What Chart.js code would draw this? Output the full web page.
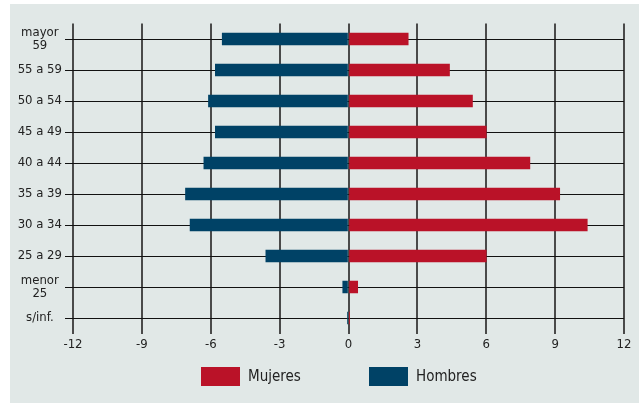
<!DOCTYPE html>
<html>
<head>
<meta charset="utf-8">
<script src="https://cdn.jsdelivr.net/npm/chart.js@4/dist/chart.umd.min.js"></script>
<style>
  html, body { margin: 0; padding: 0; background: #ffffff; }
  #wrap { position: relative; width: 639px; height: 403px; }
  canvas { display: block; }
</style>
</head>
<body>
<div id="wrap"><canvas id="myChart" width="639" height="403"></canvas></div>
<script>
// grupos de edad (de arriba hacia abajo)
const categories = [["mayor", "59"], "55 a 59", "50 a 54", "45 a 49", "40 a 44", "35 a 39", "30 a 34", "25 a 29", ["menor", "25"], "s/inf."];
// porcentajes
const mujeres = [2.6, 4.4, 5.4, 6.0, 7.9, 9.2, 10.4, 6.0, 0.4, 0.05];
const hombres = [-5.5, -5.8, -6.1, -5.8, -6.3, -7.1, -6.9, -3.6, -0.25, -0.05];
const xTicks = [-12, -9, -6, -3, 0, 3, 6, 9, 12];

const FONT = "'Liberation Sans Narrow', 'DejaVu Sans Condensed', 'Noto Sans', sans-serif";
const RED = "#ba1228";
const BLUE = "#004266";

// fondo del panel
const panelBg = {
  id: "panelBg",
  beforeDraw(chart) {
    const ctx = chart.ctx;
    ctx.save();
    ctx.fillStyle = "#e1e8e7";
    ctx.fillRect(10, 4, chart.width - 10, chart.height - 4);
    ctx.restore();
  }
};

// leyenda abajo, con cajas anchas
const bottomLegend = {
  id: "bottomLegend",
  afterDraw(chart) {
    const ctx = chart.ctx;
    const starts = [201, 369];
    ctx.save();
    ctx.font = "15px " + FONT;
    ctx.textBaseline = "middle";
    chart.data.datasets.forEach((ds, i) => {
      const x = starts[i];
      ctx.fillStyle = ds.backgroundColor;
      ctx.fillRect(x, 367, 39, 19);
      ctx.fillStyle = "#222";
      ctx.fillText(ds.label, x + 47, 377);
    });
    ctx.restore();
  }
};

const ctx = document.getElementById("myChart").getContext("2d");
const myChart = new Chart(ctx, {
  type: "bar",
  data: {
    labels: categories,
    datasets: [
      { label: "Mujeres", data: mujeres, backgroundColor: RED, barThickness: 12, stack: "s" },
      { label: "Hombres", data: hombres, backgroundColor: BLUE, barThickness: 12, stack: "s" }
    ]
  },
  options: {
    indexAxis: "y",
    responsive: false,
    animation: false,
    layout: { padding: { left: 0, right: 15, top: 23.5, bottom: 49.5 } },
    plugins: {
      legend: { display: false },
      tooltip: { enabled: false }
    },
    scales: {
      x: {
        stacked: true,
        min: -12,
        max: 12,
        afterBuildTicks(scale) {
          scale.ticks = xTicks.map(v => ({ value: v }));
        },
        afterFit(scale) { scale.height = 20; },
        grid: { color: "#4a4a4a", lineWidth: 2, drawTicks: false },
        border: { display: false },
        ticks: { color: "#222", padding: 3, font: { family: FONT, size: 13 } }
      },
      y: {
        stacked: true,
        afterFit(scale) { scale.width = 73; },
        grid: { color: "#111", lineWidth: 1, offset: false, drawTicks: true, tickLength: 8 },
        border: { display: false },
        ticks: { color: "#222", padding: 3, crossAlign: "center", font: { family: FONT, size: 13, lineHeight: 1.0 } }
      }
    }
  },
  plugins: [panelBg, bottomLegend]
});
</script>
</body>
</html>
